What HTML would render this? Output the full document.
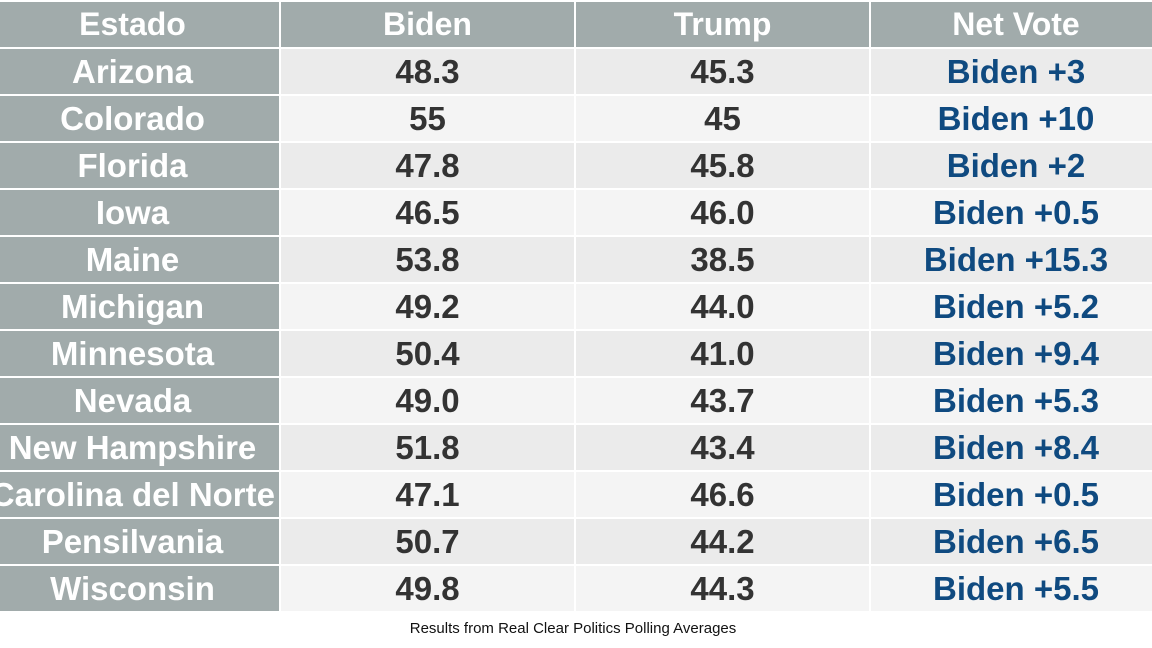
<!DOCTYPE html>
<html><head><style>
body{margin:0;width:1152px;height:648px;background:#fff;overflow:hidden;font-family:"Liberation Sans",Arial,sans-serif;}
table{position:absolute;left:0;top:2px;width:1154px;border-collapse:collapse;table-layout:fixed;}
td{height:45px;padding:0;text-align:center;font-weight:bold;font-size:33px;border:2px solid #fff;border-top:0;line-height:45px;white-space:nowrap;overflow:hidden;}
td:first-child{border-left:0;}
tr.h td{background:#a1abab;color:#fff;height:44px;font-size:32px;}
td.s{background:#a1abab;color:#fff;padding-right:14px;}
tr:nth-child(even) td.v{background:#ebebeb;}
tr:nth-child(odd) td.v{background:#f4f4f4;}
td.v{color:#333;}
td.n{color:#0f4a80;padding-left:8px;}
.cap{position:absolute;top:620px;left:0;width:1146px;text-align:center;font-size:15px;color:#111;}
</style></head><body>
<table>
<colgroup><col style="width:280px"><col style="width:295px"><col style="width:295px"><col style="width:284px"></colgroup>
<tr class="h"><td style="padding-right:14px">Estado</td><td>Biden</td><td>Trump</td><td style="padding-left:8px">Net Vote</td></tr>
<tr><td class="s">Arizona</td><td class="v">48.3</td><td class="v">45.3</td><td class="v n">Biden +3</td></tr>
<tr><td class="s">Colorado</td><td class="v">55</td><td class="v">45</td><td class="v n">Biden +10</td></tr>
<tr><td class="s">Florida</td><td class="v">47.8</td><td class="v">45.8</td><td class="v n">Biden +2</td></tr>
<tr><td class="s">Iowa</td><td class="v">46.5</td><td class="v">46.0</td><td class="v n">Biden +0.5</td></tr>
<tr><td class="s">Maine</td><td class="v">53.8</td><td class="v">38.5</td><td class="v n">Biden +15.3</td></tr>
<tr><td class="s">Michigan</td><td class="v">49.2</td><td class="v">44.0</td><td class="v n">Biden +5.2</td></tr>
<tr><td class="s">Minnesota</td><td class="v">50.4</td><td class="v">41.0</td><td class="v n">Biden +9.4</td></tr>
<tr><td class="s">Nevada</td><td class="v">49.0</td><td class="v">43.7</td><td class="v n">Biden +5.3</td></tr>
<tr><td class="s">New Hampshire</td><td class="v">51.8</td><td class="v">43.4</td><td class="v n">Biden +8.4</td></tr>
<tr><td class="s" style="text-align:right;padding-right:4px;direction:rtl"><span style="direction:ltr;unicode-bidi:embed">Carolina del Norte</span></td><td class="v">47.1</td><td class="v">46.6</td><td class="v n">Biden +0.5</td></tr>
<tr><td class="s">Pensilvania</td><td class="v">50.7</td><td class="v">44.2</td><td class="v n">Biden +6.5</td></tr>
<tr><td class="s">Wisconsin</td><td class="v">49.8</td><td class="v">44.3</td><td class="v n">Biden +5.5</td></tr>
</table>
<div class="cap">Results from Real Clear Politics Polling Averages</div>
</body></html>
